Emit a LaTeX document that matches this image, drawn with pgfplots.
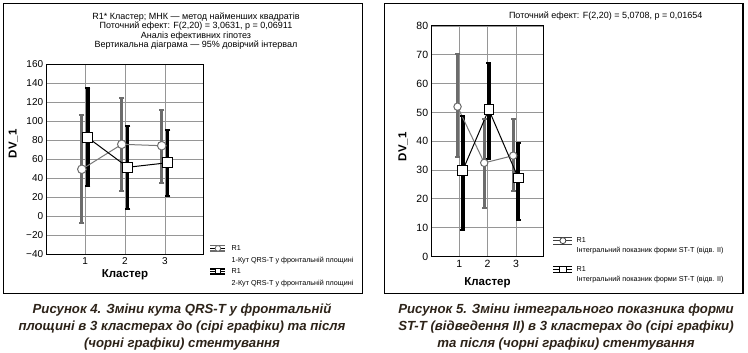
\documentclass[border=0pt]{standalone}
\usepackage{fontspec}
\setmainfont{Liberation Sans}
\usepackage{pgfplots}
\pgfplotsset{compat=1.18}
\definecolor{gbar}{RGB}{108,108,108}
\definecolor{gline}{RGB}{120,120,120}
\definecolor{gridc}{RGB}{150,150,150}
\definecolor{capc}{RGB}{45,35,25}
\begin{document}
\begin{tikzpicture}
\useasboundingbox (0pt,0pt) rectangle (748pt,-353pt);
\draw[line width=1.2pt] (3.3pt,-3.3pt) rectangle (362.3pt,-293.3pt);
\draw[line width=1.2pt] (384.3pt,-3.3pt) rectangle (743pt,-293.3pt);
\pgfplotsset{
  statstyle/.style={
    scale only axis,
    axis line style={line width=1pt},
    grid=major,
    major grid style={draw=gridc, line width=0.8pt},
    major tick length=0pt,
    xtick={1,2,3},
    xticklabels={1,2,3},
    /pgf/number format/assume math mode=true,
    clip=false,
    legend cell align=left,
  },
}
% ---------------- left panel ----------------
\begin{axis}[statstyle,
  at={(46.7pt,-64.3pt)}, anchor=north west,
  width=156.6pt, height=190pt,
  xmin=0.04, xmax=3.96, ymin=-40, ymax=160,
  ytick={-40,-20,...,160},
  yticklabels={−40,−20,0,20,40,60,80,100,120,140,160},
  tick label style={font=\fontsize{10}{12}\selectfont},
  xlabel={Кластер},
  xlabel style={at={(axis description cs:0.5,-0.109)}, anchor=center, font=\bfseries\fontsize{11.5}{13}\selectfont},
  ylabel={DV\_1},
  ylabel style={at={(axis description cs:-0.213,0.582)}, anchor=center, font=\bfseries\fontsize{11.5}{13}\selectfont},
  title={R1* Кластер; МНК — метод найменших квадратів\\Поточний ефект: F(2,20) = 3,0631, p = 0,06911\\Аналіз ефективних гіпотез\\Вертикальна діаграма — 95\% довірчий інтервал},
  title style={at={(axis description cs:0.953,1.143)}, anchor=center, align=center, font=\fontsize{9}{9.5}\selectfont},
  legend style={at={(axis description cs:1.043,0.052)}, anchor=north west, draw=none, fill=none, inner sep=0pt, row sep=4pt, column sep=6pt, font=\fontsize{7.2}{8}\selectfont, nodes={inner sep=0pt}},
]
% confidence intervals (before stenting, grey)
\addplot[gbar, line width=3pt, mark=-, mark size=2.6pt, mark options={line width=2pt}, forget plot] coordinates {(0.92,-7.4) (0.92,106.6)};
\addplot[gbar, line width=3pt, mark=-, mark size=2.6pt, mark options={line width=2pt}, forget plot] coordinates {(1.92,27) (1.92,124.2)};
\addplot[gbar, line width=3pt, mark=-, mark size=2.6pt, mark options={line width=2pt}, forget plot] coordinates {(2.92,35.4) (2.92,112.2)};
% confidence intervals (after stenting, black)
\addplot[black, line width=3.4pt, mark=-, mark size=2.6pt, mark options={line width=2pt}, forget plot] coordinates {(1.07,31.9) (1.07,135.4)};
\addplot[black, line width=3.4pt, mark=-, mark size=2.6pt, mark options={line width=2pt}, forget plot] coordinates {(2.07,7.7) (2.07,94.7)};
\addplot[black, line width=3.4pt, mark=-, mark size=2.6pt, mark options={line width=2pt}, forget plot] coordinates {(3.07,21.7) (3.07,91.2)};
% means
\addplot[gline, line width=1pt, mark=*, mark size=4.3pt, mark options={fill=white, draw=gbar, line width=1pt}, forget plot] coordinates {(0.92,49.5) (1.92,75.8) (2.92,74.3)};
\addplot[black, line width=1pt, mark=square*, mark size=5pt, mark options={fill=white, draw=black, line width=1pt}, forget plot] coordinates {(1.07,82.8) (2.07,51.6) (3.07,56.4)};
% legend
\addlegendimage{legend image code/.code={
  \path (0pt,0pt) -- (15pt,0pt);
  \begin{scope}[overlay]
  \draw[gbar, line width=1.8pt] (0pt,2.8pt) -- (15pt,2.8pt);
  \draw[gbar, line width=1.8pt] (0pt,-2.8pt) -- (15pt,-2.8pt);
  \draw[gbar, line width=0.8pt, fill=white] (7.5pt,0pt) circle (2.8pt);
  \end{scope}
}}
\addlegendentry{\rule[-2pt]{0pt}{8pt}R1}
\addlegendimage{empty legend}
\addlegendentry{\rule[-2pt]{0pt}{8pt}1-Кут QRS-T у фронтальній площині}
\addlegendimage{legend image code/.code={
  \path (0pt,0pt) -- (15pt,0pt);
  \begin{scope}[overlay]
  \draw[black, line width=2pt] (0pt,2.8pt) -- (15pt,2.8pt);
  \draw[black, line width=2pt] (0pt,-2.8pt) -- (15pt,-2.8pt);
  \draw[black, line width=0.8pt, fill=white] (5pt,-2.5pt) rectangle (10pt,2.5pt);
  \end{scope}
}}
\addlegendentry{\rule[-2pt]{0pt}{8pt}R1}
\addlegendimage{empty legend}
\addlegendentry{\rule[-2pt]{0pt}{8pt}2-Кут QRS-T у фронтальній площині}
\end{axis}
% ---------------- right panel ----------------
\begin{axis}[statstyle,
  at={(431.7pt,-26pt)}, anchor=north west,
  width=111.6pt, height=230.5pt,
  xmin=0.03, xmax=3.96, ymin=0, ymax=80,
  ytick={0,10,...,80},
  tick label style={font=\fontsize{10.5}{12}\selectfont},
  xlabel={Кластер},
  xlabel style={at={(axis description cs:0.5,-0.116)}, anchor=center, font=\bfseries\fontsize{11.5}{13}\selectfont},
  ylabel={DV\_1},
  ylabel style={at={(axis description cs:-0.257,0.476)}, anchor=center, font=\bfseries\fontsize{11.5}{13}\selectfont},
  title={Поточний ефект: F(2,20) = 5,0708, p = 0,01654},
  title style={at={(axis description cs:1.559,1.017)}, anchor=center, font=\fontsize{9}{9.5}\selectfont},
  legend style={at={(axis description cs:1.087,0.086)}, anchor=north west, draw=none, fill=none, inner sep=0pt, row sep=2.3pt, column sep=4pt, font=\fontsize{7.2}{8}\selectfont, nodes={inner sep=0pt}},
]
\addplot[gbar, line width=3pt, mark=-, mark size=2.3pt, mark options={line width=2pt}, forget plot] coordinates {(0.94,34.6) (0.94,70.4)};
\addplot[gbar, line width=3pt, mark=-, mark size=2.3pt, mark options={line width=2pt}, forget plot] coordinates {(1.88,16.8) (1.88,47.8)};
\addplot[gbar, line width=3pt, mark=-, mark size=2.3pt, mark options={line width=2pt}, forget plot] coordinates {(2.9,22.9) (2.9,47.6)};
\addplot[black, line width=3.8pt, mark=-, mark size=2.4pt, mark options={line width=2pt}, forget plot] coordinates {(1.12,9.2) (1.12,48.7)};
\addplot[black, line width=3.8pt, mark=-, mark size=2.4pt, mark options={line width=2pt}, forget plot] coordinates {(2.04,33.9) (2.04,67.3)};
\addplot[black, line width=3.8pt, mark=-, mark size=2.4pt, mark options={line width=2pt}, forget plot] coordinates {(3.08,12.7) (3.08,39.4)};
\addplot[gline, line width=1pt, mark=*, mark size=3.7pt, mark options={fill=white, draw=gbar, line width=1pt}, forget plot] coordinates {(0.94,52) (1.88,32.5) (2.9,35)};
\addplot[black, line width=1pt, mark=square*, mark size=4.7pt, mark options={fill=white, draw=black, line width=1pt}, forget plot] coordinates {(1.12,29.8) (2.04,51) (3.08,27.2)};
\addlegendimage{legend image code/.code={
  \path (0pt,0pt) -- (19pt,0pt);
  \begin{scope}[overlay]
  \draw[black!75, line width=0.7pt] (0pt,3.3pt) -- (19pt,3.3pt);
  \draw[black!75, line width=0.7pt] (0pt,-3.3pt) -- (19pt,-3.3pt);
  \draw[black!75, line width=0.7pt] (0pt,0pt) -- (19pt,0pt);
  \draw[black!75, line width=0.8pt, fill=white] (9.5pt,0pt) circle (3pt);
  \end{scope}
}}
\addlegendentry{\rule[-2pt]{0pt}{8pt}R1}
\addlegendimage{empty legend}
\addlegendentry{\rule[-2pt]{0pt}{8pt}Інтегральний показник форми ST-T (відв. II)}
\addlegendimage{empty legend}
\addlegendentry{\rule{0pt}{5.4pt}}
\addlegendimage{legend image code/.code={
  \path (0pt,0pt) -- (19pt,0pt);
  \begin{scope}[overlay]
  \draw[black, line width=0.8pt] (0pt,3.3pt) -- (19pt,3.3pt);
  \draw[black, line width=0.8pt] (0pt,-3.3pt) -- (19pt,-3.3pt);
  \draw[black, line width=0.8pt] (0pt,0pt) -- (19pt,0pt);
  \draw[black, line width=0.8pt, fill=white] (6pt,-3pt) rectangle (13pt,3pt);
  \end{scope}
}}
\addlegendentry{\rule[-2pt]{0pt}{8pt}R1}
\addlegendimage{empty legend}
\addlegendentry{\rule[-2pt]{0pt}{8pt}Інтегральний показник форми ST-T (відв. II)}
\end{axis}
% captions
\node[align=center, font=\bfseries\itshape\fontsize{13.2}{17}\selectfont, text=capc] at (182pt,-327pt) {Рисунок 4. Зміни кута QRS-T у фронтальній\\площині в 3 кластерах до (сірі графіки) та після\\(чорні графіки) стентування};
\node[align=center, font=\bfseries\itshape\fontsize{13.2}{17}\selectfont, text=capc] at (566pt,-327pt) {Рисунок 5. Зміни інтегрального показника форми\\ST-T (відведення II) в 3 кластерах до (сірі графіки)\\та після (чорні графіки) стентування};
\end{tikzpicture}
\end{document}
